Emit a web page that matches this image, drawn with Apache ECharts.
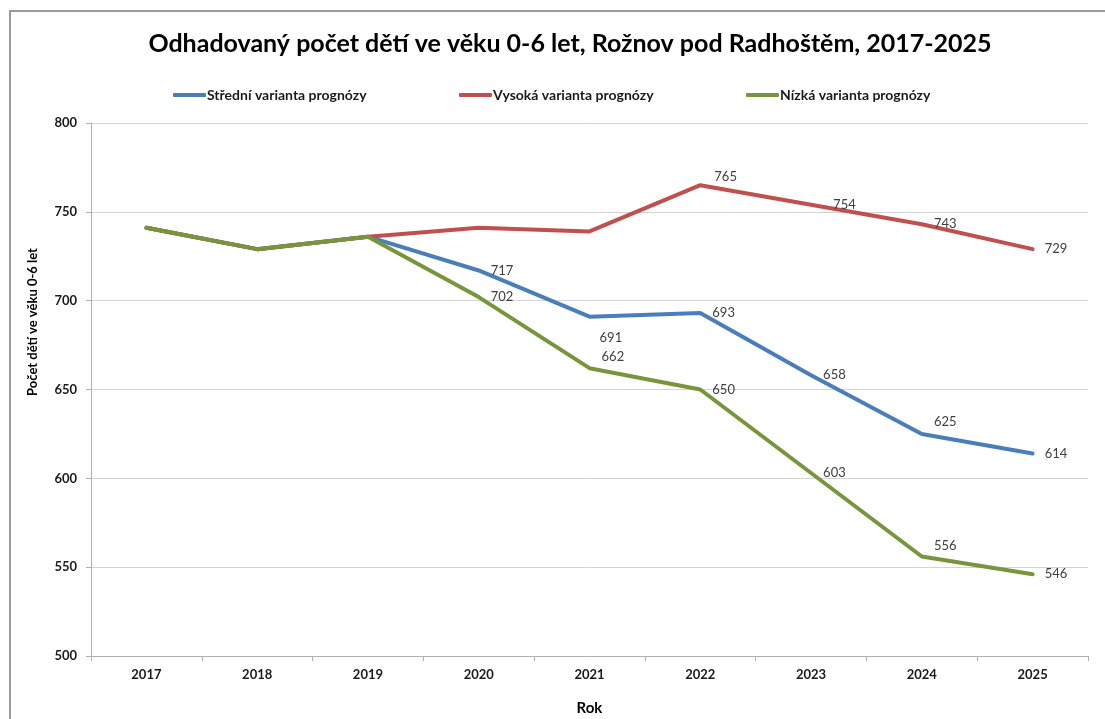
<!DOCTYPE html>
<html>
<head>
<meta charset="utf-8">
<title>Odhadovaný počet dětí ve věku 0-6 let</title>
<script src="https://cdn.jsdelivr.net/npm/echarts@6/dist/echarts.min.js"></script>
<style>
  html, body { margin: 0; padding: 0; background: #fff; }
  #chart { width: 1105px; height: 719px; }
</style>
</head>
<body>
<div id="chart"></div>
<script>
// data
const years = ['2017', '2018', '2019', '2020', '2021', '2022', '2023', '2024', '2025']
const stredni = [741, 729, 736, 717, 691, 693, 658, 625, 614]
const vysoka = [741, 729, 736, 741, 739, 765, 754, 743, 729]
const nizka = [741, 729, 736, 702, 662, 650, 603, 556, 546]
const yTicks = [500, 550, 600, 650, 700, 750, 800]

const FONT = 'Lato, "Open Sans", sans-serif'

// which points get a value label, and small nudges so they sit like the original
const makeData = (values, firstLabel, shifts) => values.map((v, i) => ({
  value: v,
  label: {
    show: i >= firstLabel,
    offset: shifts[i] || [0, 0]
  }
}))

const lineSeries = (name, color, values, firstLabel, shifts) => ({
  name,
  type: 'line',
  data: makeData(values, firstLabel, shifts),
  symbol: 'circle',
  symbolSize: 0.1,
  showSymbol: true,
  lineStyle: { color, width: 4, cap: 'round', join: 'round' },
  itemStyle: { color },
  label: {
    position: 'right',
    distance: 12,
    color: '#404040',
    fontFamily: FONT,
    fontSize: 13
  },
  emphasis: { disabled: true }
})

const chart = echarts.init(document.getElementById('chart'))

const legendBase = {
  top: 88,
  padding: 0,
  icon: 'roundRect',
  itemWidth: 33,
  itemHeight: 4,
  itemGap: 0,
  textStyle: { fontFamily: FONT, fontWeight: 'bold', fontSize: 14, color: '#1a1a1a', padding: [0, 0, 0, -4] }
}

chart.setOption({
  backgroundColor: '#fff',
  animation: false,
  title: {
    text: 'Odhadovaný počet dětí ve věku 0-6 let, Rožnov pod Radhoštěm, 2017-2025',
    left: 565,
    textAlign: 'center',
    top: 26,
    textStyle: { fontFamily: FONT, fontWeight: 'bold', fontSize: 25, color: '#000' }
  },
  legend: [
    { ...legendBase, left: 173, data: ['Střední varianta prognózy'] },
    { ...legendBase, left: 459, data: ['Vysoká varianta prognózy'] },
    { ...legendBase, left: 746, data: ['Nízká varianta prognózy'] }
  ],
  grid: { left: 91, top: 123, right: 17, bottom: 63, outerBoundsMode: 'none' },
  xAxis: {
    type: 'category',
    data: years,
    boundaryGap: true,
    name: 'Rok',
    nameLocation: 'middle',
    nameGap: 45,
    nameTextStyle: { fontFamily: FONT, fontWeight: 'bold', fontSize: 15, color: '#000' },
    axisLine: { lineStyle: { color: '#b0b0b0', width: 1 } },
    axisTick: { show: true, length: 5, lineStyle: { color: '#b0b0b0' } },
    axisLabel: { margin: 12, fontFamily: FONT, fontWeight: 'bold', fontSize: 13, color: '#1a1a1a' }
  },
  yAxis: {
    type: 'value',
    min: yTicks[0],
    max: yTicks[yTicks.length - 1],
    interval: yTicks[1] - yTicks[0],
    axisLine: { show: true, lineStyle: { color: '#b0b0b0', width: 1 } },
    axisTick: { show: true, length: 5, lineStyle: { color: '#b0b0b0' } },
    axisLabel: { margin: 14, fontFamily: FONT, fontWeight: 'bold', fontSize: 13, color: '#1a1a1a' },
    splitLine: { lineStyle: { color: '#d4d4d4', width: 1 } }
  },
  graphic: [
    {
      type: 'rect',
      silent: true,
      shape: { x: 10, y: 11, width: 1200, height: 800 },
      style: { fill: 'none', stroke: '#9a9a9a', lineWidth: 2 }
    },
    {
      type: 'text',
      silent: true,
      x: 33,
      y: 322,
      rotation: Math.PI / 2,
      style: {
        text: 'Počet dětí ve věku 0-6 let',
        fontFamily: FONT,
        fontWeight: 'bold',
        fontSize: 13,
        fill: '#000',
        align: 'center',
        verticalAlign: 'middle'
      }
    }
  ],
  series: [
    lineSeries('Střední varianta prognózy', '#4a7ebb', stredni, 3, { 4: [-2, 21], 7: [0, -12] }),
    lineSeries('Vysoká varianta prognózy', '#c0504d', vysoka, 5, { 5: [2, -8], 6: [10, 0] }),
    lineSeries('Nízká varianta prognózy', '#77963c', nizka, 3, { 4: [0, -11], 7: [0, -11] })
  ]
})
</script>
</body>
</html>
